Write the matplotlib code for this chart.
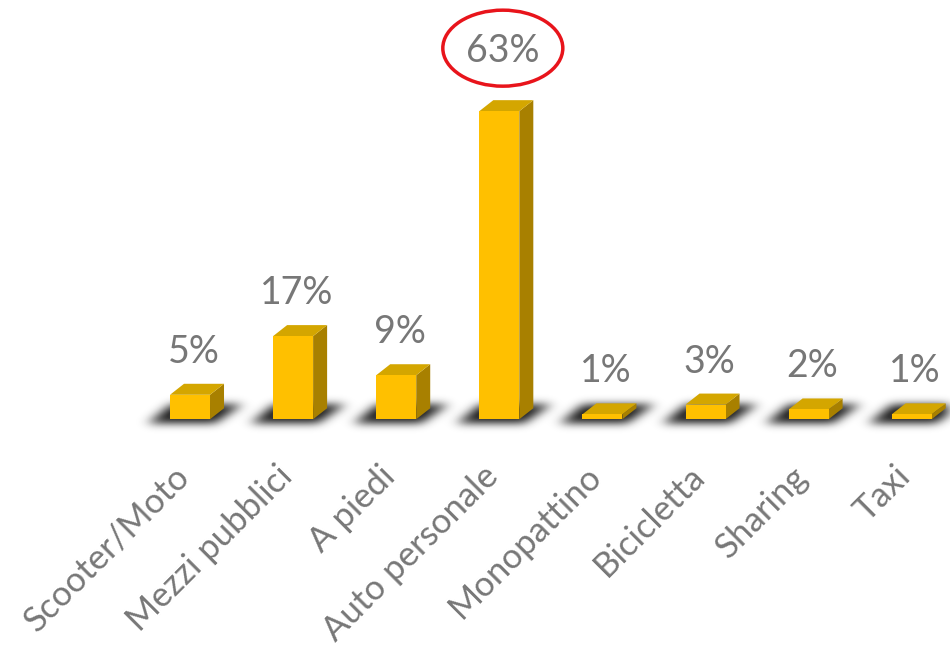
import numpy as np
import matplotlib.pyplot as plt
from matplotlib.patches import Polygon, Ellipse

# data
categories = ['Scooter/Moto', 'Mezzi pubblici', 'A piedi', 'Auto personale',
              'Monopattino', 'Bicicletta', 'Sharing', 'Taxi']
values = [5, 17, 9, 63, 1, 3, 2, 1]
labels = ['5%', '17%', '9%', '63%', '1%', '3%', '2%', '1%']
highlight = 3

plt.rcParams['font.family'] = ['Lato', 'DejaVu Sans']
grey = '#777777'

# figure and axes covering whole canvas
fig = plt.figure(figsize=(9.5, 6.52), dpi=100)
ax = fig.add_axes([0, 0, 1, 1])
xmin, xmax = -1.843, -1.843 + 950 / 103.1
ymin, ymax = -47.6, -47.6 + 652 / 4.89
ax.set_xlim(xmin, xmax)
ax.set_ylim(ymin, ymax)
ax.axis('off')

px = (xmax - xmin) / 950   # data units per pixel
py = (ymax - ymin) / 652
bw = 40 * px
dx = 14 * px
dy = 11 * py

# blurred floor shadows
xs = np.linspace(xmin, xmax, 950)
ys = np.linspace(-12, 8, 100)
X, Y = np.meshgrid(xs, ys)
mask = np.zeros_like(X)
yb, yt = -5 * py, 16 * py
for i in range(len(values)):
    t = (Y - yb) / (yt - yb)
    left = i + (-45 + 25 * t) * px
    right = i + (25 + 30 * t) * px
    inside = (Y >= yb) & (Y <= yt) & (X >= left) & (X <= right)
    mask[inside] = 1.0

def blur(a, sigma, axis):
    r = int(3 * sigma)
    k = np.exp(-0.5 * (np.arange(-r, r + 1) / sigma) ** 2)
    k /= k.sum()
    return np.apply_along_axis(lambda m: np.convolve(m, k, mode='same'), axis, a)

sy = 4.5 * py / (ys[1] - ys[0])
mask = blur(blur(mask, 6.5, 1), sy, 0)
rgba = np.zeros(mask.shape + (4,))
rgba[..., :3] = 0.08
rgba[..., 3] = np.clip(mask * 1.0, 0, 0.9) ** 1.3
ax.imshow(rgba, extent=(xmin, xmax, ys[0], ys[-1]), origin='lower',
          aspect='auto', zorder=1, interpolation='bilinear')

# 3D bars
for i, v in enumerate(values):
    x0 = i - bw / 2
    front = [(x0, 0), (x0 + bw, 0), (x0 + bw, v), (x0, v)]
    top = [(x0, v), (x0 + bw, v), (x0 + bw + dx, v + dy), (x0 + dx, v + dy)]
    side = [(x0 + bw, 0), (x0 + bw + dx, dy), (x0 + bw + dx, v + dy), (x0 + bw, v)]
    ax.add_patch(Polygon(side, closed=True, facecolor='#A88000', edgecolor='none', zorder=3))
    ax.add_patch(Polygon(top, closed=True, facecolor='#D4A600', edgecolor='none', zorder=3))
    ax.add_patch(Polygon(front, closed=True, facecolor='#FFC000', edgecolor='none', zorder=4))

    off = 49 if i == highlight else 32
    ax.text(i + dx / 4, v + dy + off * py, labels[i], ha='center', va='center',
            fontsize=27, color=grey, zorder=5)

    ax.text(i - 0.06, -52 * py, categories[i], ha='right', va='center',
            rotation=45, rotation_mode='anchor', fontsize=25, color=grey)

# highlight circle around biggest value
hv = values[highlight]
ax.add_patch(Ellipse((highlight + dx / 4, hv + dy + 52 * py), 120 * px, 76 * py,
                     fill=False, edgecolor='#E8141B', linewidth=2.5, zorder=6))

fig.savefig('out.png', dpi=100)
